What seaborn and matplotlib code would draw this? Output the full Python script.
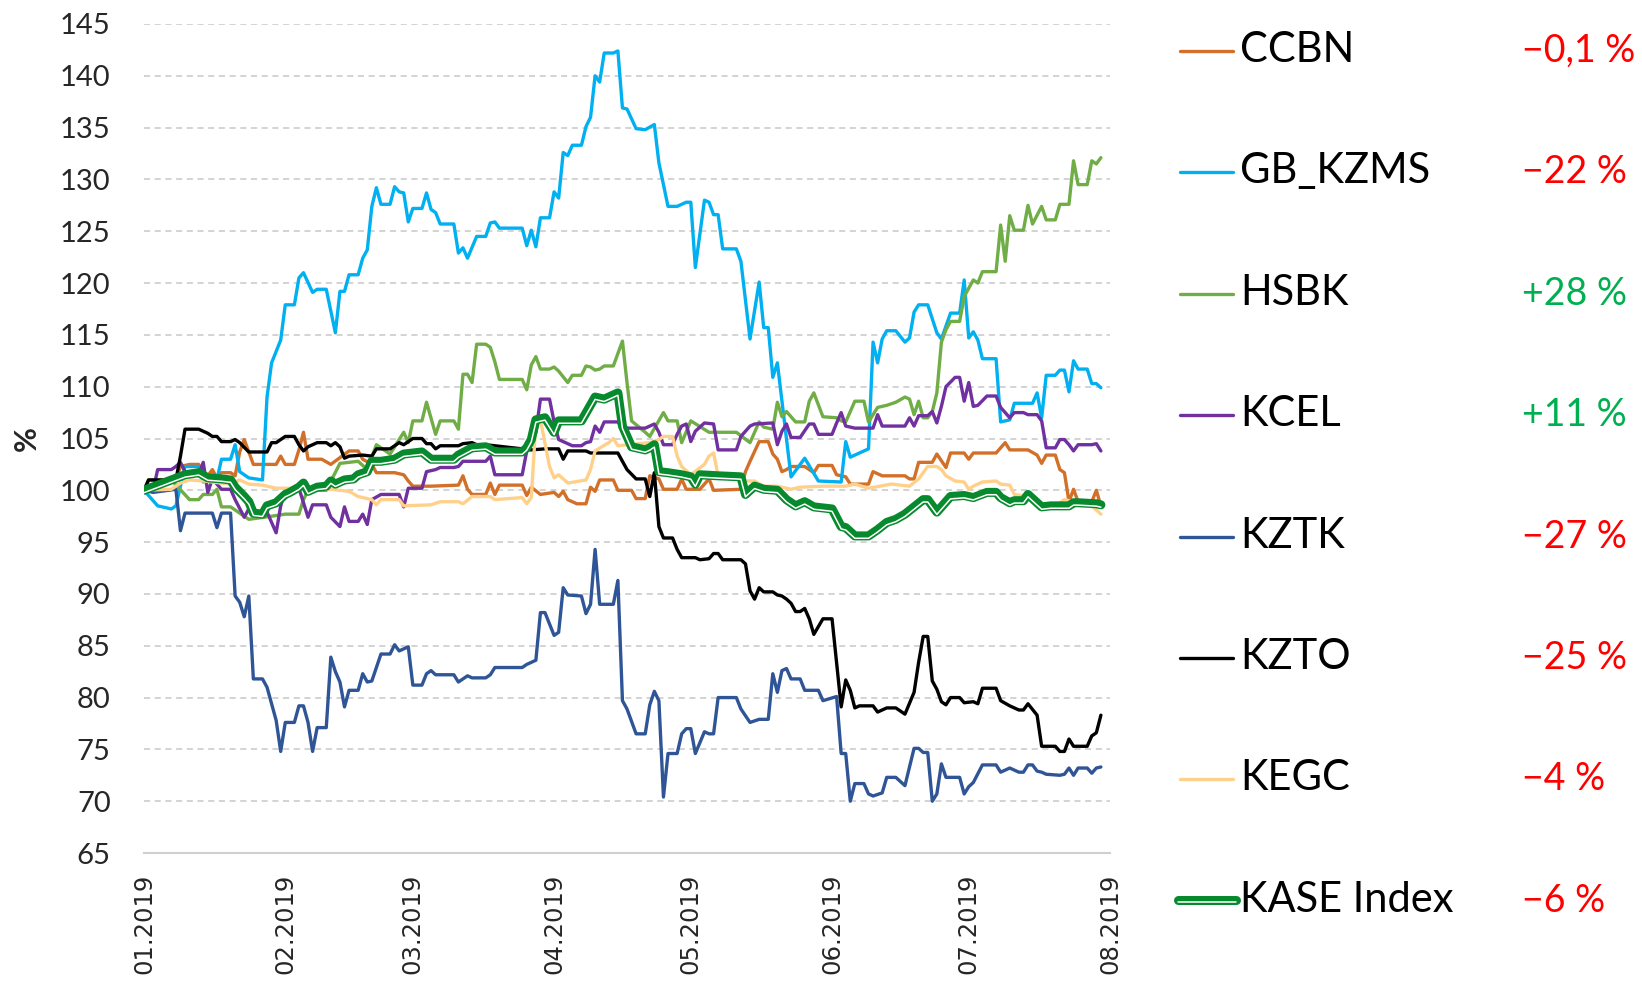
import pandas as pd
import seaborn as sns
import matplotlib.pyplot as plt
import matplotlib.dates as mdates
import matplotlib.patheffects as pe
from matplotlib.lines import Line2D

# (dias desde 01.01.2019, valor %)
ccbn = [(0,100),(7,101),(8,102.3),(10,102.5),(12,102.5),(13,101.8),(14,101.4),(15,102),(16,101.2),(17,101.7),
        (19,101.7),(20,101.4),(21,103.7),(22,104.9),(23,103.7),(24,102.5),(27,102.5),(29,102.5),(30,103.3),(31,102.5),
        (33,102.5),(34,103.9),(35,105.6),(36,103),(39,103),(41,102.5),(45,103.8),(47,103.8),(48,103),(50,102.5),
        (51,101.7),(55,101.7),(57,101.5),(58,100.9),(59,100.4),(63,100.4),(69,100.5),(70,101.4),(71,100.1),(72,99.6),
        (75,99.6),(76,100.7),(77,99.6),(78,100.5),(83,100.5),(84,99.5),(85,100.3),(87,99.6),(90,99.8),(91,99.4),
        (92,99.9),(93,99.1),(95,98.7),(97,98.7),(98,100.3),(99,99.9),(100,101),(103,101),(104,100),(107,100),
        (108,99.2),(110,99.2),(111,101.4),(113,101.1),(114,100.1),(117,100.1),(118,101.1),(119,100.1),(122,100.1),(124,101.1),
        (125,100),(131,100.1),(132,101.8),(133,102.8),(135,104.7),(137,104.7),(138,103.5),(139,103),(140,101.8),(141,102),
        (142,102.3),(145,102.3),(147,101.7),(148,102.4),(151,102.4),(152,101.5),(154,101.3),(155,100.6),(159,100.6),(160,101.8),
        (162,101.4),(167,101.4),(168,101.1),(169,101.1),(170,102.7),(173,102.7),(174,103.5),(176,102.2),(177,103.6),(180,103.6),
        (181,103),(182,103.6),(187,103.6),(189,104.6),(190,103.9),(194,103.9),(196,103.4),(197,102.6),(198,103.4),(200,103.4),
        (201,102),(202,101.7),(203,98.9),(204,100.1),(205,98.9),(208,98.9),(209,100),(210,98.5)]

gb_kzms = [(0,100),(3,98.5),(6,98.2),(7,98.5),(9,102.3),(12,102.3),(13,100.8),(15,101.5),(16,101),(17,103),
           (19,103),(20,104.4),(21,101.8),(23,101.2),(26,101),(27,109),(28,112.3),(30,114.5),(31,117.9),(33,117.9),
           (34,120.5),(35,121),(37,119.1),(38,119.4),(40,119.4),(42,115.2),(43,119.2),(44,119.2),(45,120.8),(47,120.8),
           (48,122.4),(49,123.2),(50,127.4),(51,129.2),(52,127.6),(54,127.6),(55,129.3),(56,128.8),(57,128.7),(58,125.9),
           (59,127.2),(61,127.2),(62,128.7),(63,127.1),(64,126.8),(65,125.7),(68,125.7),(69,122.9),(70,123.4),(71,122.4),
           (73,124.5),(75,124.5),(76,125.8),(77,125.9),(78,125.3),(83,125.3),(84,123.6),(85,125.1),(86,123.5),(87,126.3),
           (89,126.3),(90,128.8),(91,128.2),(92,132.6),(93,132.3),(94,133.3),(96,133.3),(97,135.1),(98,136),(99,140),
           (100,139.4),(101,142.2),(103,142.2),(104,142.4),(105,136.9),(106,136.8),(108,134.9),(110,134.8),(112,135.3),(113,131.6),
           (115,127.4),(117,127.4),(119,127.8),(120,127.8),(121,121.5),(123,128),(124,127.8),(125,126.6),(126,126.6),(127,123.3),
           (130,123.3),(131,122.1),(133,114.6),(135,120.1),(136,115.7),(137,115.7),(138,110.9),(139,112.3),(142,101.3),(145,103.1),
           (148,100.9),(153,100.8),(154,104.7),(155,103.2),(158,103.8),(159,104),(160,114.3),(161,112.3),(162,114.6),(163,115.4),
           (165,115.4),(167,114.3),(168,114.7),(169,117.2),(170,117.9),(172,117.9),(174,115.2),(175,114.6),(177,117.1),(179,117.1),
           (180,120.3),(181,114.7),(182,115.3),(183,114.5),(184,112.7),(187,112.7),(188,106.6),(190,106.8),(191,108.4),(195,108.4),
           (196,109.4),(197,107),(198,111.1),(200,111.1),(201,111.6),(202,111.6),(203,109.5),(204,112.5),(205,111.7),(207,111.7),
           (208,110.3),(209,110.3),(210,109.9)]

hsbk = [(0,100),(1,101),(6,101),(10,99.1),(12,99.1),(13,99.6),(15,99.6),(16,100.1),(17,98.4),(19,98.4),
        (23,97.2),(28,97.5),(31,97.7),(34,97.7),(35,99.1),(36,100),(40,100),(43,102.6),(47,102.8),(49,102),
        (51,104.4),(54,103.5),(57,105.6),(58,104.6),(59,106.7),(61,106.7),(62,108.5),(64,105.4),(65,106.7),(68,106.7),
        (69,105.9),(70,111.2),(71,111.2),(72,110.4),(73,114.1),(75,114.1),(76,113.8),(77,112.4),(78,110.7),(83,110.7),
        (84,109.7),(85,112.1),(86,112.9),(87,111.7),(89,111.7),(90,111.9),(91,111.5),(93,110.4),(94,111.1),(96,111.1),
        (97,112),(98,111.9),(99,111.6),(100,111.7),(101,112),(103,112),(105,114.4),(106,110.4),(107,106.7),(110,105.6),
        (111,105.2),(114,107.5),(115,106.7),(117,106.7),(118,104.6),(120,106.7),(124,105.6),(126,105.6),(130,105.6),(133,104.6),
        (135,106.6),(136,106.1),(138,105.9),(139,108.5),(140,107.1),(141,107.6),(143,106.6),(145,106.6),(146,108.6),(147,109.4),
        (149,107.1),(152,107),(153,106.7),(154,106.6),(156,108.6),(158,108.6),(159,106.6),(161,108),(163,108.2),(165,108.5),
        (167,109),(168,108.8),(169,107.3),(170,108.6),(171,107),(172,107),(173,107.6),(174,109.4),(175,114.3),(176,115.5),
        (177,116.3),(179,116.3),(180,118.7),(182,120.3),(183,120),(184,121.1),(187,121.1),(188,125.6),(189,122.1),(190,126.5),
        (191,125.1),(193,125.1),(194,127.5),(195,125.7),(197,127.4),(198,126.1),(200,126.1),(201,127.6),(203,127.6),(204,131.8),
        (205,129.5),(207,129.5),(208,131.8),(209,131.5),(210,132.1)]

kcel = [(0,100),(2,100),(3,102),(6,102),(7,102.3),(8,102.7),(9,101.8),(10,101.5),(12,101.5),(13,102.7),
        (14,99.8),(15,101.1),(16,100.6),(17,100.1),(19,100.1),(20,99.1),(22,97.4),(23,98.2),(25,97.9),(27,97.9),
        (28,96.9),(29,95.9),(30,98.5),(31,99.9),(33,100.3),(34,100.2),(36,97.4),(37,98.6),(40,98.6),(41,97.4),
        (43,96.5),(44,98.4),(45,97),(47,97),(48,97.7),(49,96.7),(50,99.1),(52,99.6),(56,99.6),(57,98.4),
        (58,100.2),(61,100.2),(62,101.8),(64,102),(65,102.2),(68,102.2),(69,102.3),(70,102.8),(75,102.8),(76,103.3),
        (77,101.5),(83,101.5),(84,103.8),(86,105.6),(87,108.8),(89,108.8),(90,106.6),(91,104.9),(92,104.7),(94,104.3),
        (96,104.3),(97,104.6),(98,104.7),(99,106.2),(100,105.6),(101,106.6),(104,106.6),(105,106),(110,106),(112,106.4),
        (113,105.6),(114,104.4),(116,104.4),(117,105.4),(118,106.2),(119,106.4),(120,104.7),(121,105.7),(123,106.5),(125,106.4),
        (126,103.9),(130,103.9),(131,105.2),(133,106.2),(134,106.4),(138,106.5),(139,104.4),(140,105.7),(141,106.4),(142,105.1),
        (144,105.1),(146,106.4),(147,106.4),(148,105.4),(151,105.4),(152,106.5),(153,107.5),(154,106.2),(156,106),(160,106),
        (161,107.3),(162,106.2),(167,106.2),(168,107),(169,106.2),(170,107.2),(172,107.2),(173,107.6),(174,106.5),(175,108.1),
        (176,110),(178,110.9),(179,110.9),(180,108.6),(181,110.4),(182,108.1),(183,108.2),(185,109.1),(187,109.1),(188,108),
        (190,107),(191,107.5),(193,107.5),(194,107.3),(196,107.3),(197,106.7),(198,104.1),(200,104.1),(201,104.9),(202,104.9),
        (203,104.4),(204,103.8),(205,104.4),(208,104.4),(209,104.5),(210,103.8)]

kztk = [(0,100),(2,99.8),(7,100.1),(8,96.1),(9,97.8),(15,97.8),(16,96.4),(17,97.8),(19,97.8),(20,89.8),
        (21,89.2),(22,87.8),(23,89.8),(24,81.8),(26,81.8),(27,81),(29,77.8),(30,74.8),(31,77.6),(33,77.6),
        (34,79.2),(35,79.2),(36,77.6),(37,74.8),(38,77.1),(40,77.1),(41,83.9),(42,82.5),(43,81.5),(44,79.1),
        (45,80.7),(47,80.7),(48,82.3),(49,81.5),(50,81.6),(52,84.2),(54,84.2),(55,85.1),(56,84.5),(58,84.9),
        (59,81.2),(61,81.2),(62,82.3),(63,82.6),(64,82.2),(68,82.2),(69,81.5),(71,82.1),(72,81.9),(75,81.9),
        (76,82.2),(77,82.9),(83,82.9),(84,83.2),(86,83.6),(87,88.2),(88,88.2),(90,86),(91,86.3),(92,90.6),
        (93,89.9),(96,89.8),(97,88.1),(98,89),(99,94.3),(100,89),(103,89),(104,91.3),(105,79.7),(106,78.9),
        (107,77.7),(108,76.5),(110,76.5),(111,79.3),(112,80.6),(113,79.7),(114,70.4),(115,74.6),(117,74.6),(118,76.5),
        (119,77),(120,77),(121,74.6),(123,76.7),(124,76.5),(125,76.5),(126,80),(130,80),(131,78.9),(133,77.6),
        (135,77.9),(137,77.9),(138,82.3),(139,80.5),(140,82.6),(141,82.8),(142,81.8),(144,81.8),(145,80.7),(148,80.7),
        (149,79.7),(152,80.1),(153,74.6),(154,74.6),(155,70),(156,71.7),(158,71.7),(159,70.7),(160,70.5),(162,70.8),
        (163,72.3),(165,72.3),(167,71.5),(169,75.1),(170,75.1),(171,74.7),(172,74.7),(173,70),(174,70.7),(175,73.6),
        (176,72.3),(179,72.3),(180,70.7),(181,71.4),(182,71.8),(184,73.5),(187,73.5),(188,72.8),(190,73.2),(192,72.8),
        (193,72.8),(194,73.5),(195,73.5),(196,72.9),(197,72.8),(198,72.6),(201,72.5),(202,72.6),(203,73.2),(204,72.5),
        (205,73.2),(207,73.2),(208,72.7),(209,73.2),(210,73.3)]

kzto = [(0,100),(1,101),(7,101),(8,103.3),(9,105.9),(12,105.9),(13,105.7),(14,105.5),(15,105.2),(16,105.2),
        (17,104.7),(19,104.7),(20,104.9),(21,104.6),(23,103.7),(27,103.7),(28,104.6),(29,104.6),(31,105.2),(33,105.2),
        (34,104.4),(35,103.8),(36,104.2),(38,104.6),(40,104.6),(41,104.3),(42,104.6),(43,104.2),(44,103.1),(45,103.3),
        (48,103.4),(50,103.3),(51,104),(54,104),(56,104.6),(57,104.4),(58,104.7),(59,105),(61,105),(62,104.5),
        (63,104.5),(64,104),(65,104.3),(69,104.3),(70,104.5),(72,104.6),(73,104.4),(75,104.4),(85,103.9),(88,104),
        (91,104),(92,103),(93,103.8),(97,103.8),(98,103.6),(104,103.6),(106,102),(108,101.1),(110,101.1),(111,99.4),
        (112,101.7),(113,96.5),(114,95.4),(116,95.4),(117,94.3),(118,93.5),(121,93.5),(122,93.3),(124,93.4),(125,93.9),
        (126,93.9),(127,93.3),(131,93.3),(132,92.9),(133,90.3),(134,89.5),(135,90.6),(136,90.2),(138,90.2),(139,89.9),
        (140,89.8),(141,89.5),(142,89.1),(143,88.3),(144,88.3),(145,88.6),(146,87.6),(147,86.1),(149,87.6),(151,87.6),
        (152,83.4),(153,79.1),(154,81.7),(155,80.7),(156,79),(157,79.2),(160,79.2),(161,78.6),(163,79),(165,79),
        (167,78.4),(169,80.5),(170,83.4),(171,85.9),(172,85.9),(173,81.6),(174,80.8),(175,79.6),(176,79.3),(177,80),
        (179,80),(180,79.5),(182,79.6),(183,79.4),(184,80.9),(187,80.9),(188,79.7),(190,79.2),(192,78.8),(193,78.8),
        (194,79.4),(196,78.3),(197,75.3),(200,75.3),(201,74.8),(202,74.8),(203,76),(204,75.3),(207,75.3),(208,76.3),
        (209,76.6),(210,78.3)]

kegc = [(0,100),(6,100.1),(8,100.7),(10,101),(13,100.9),(19,100.6),(21,101),(23,100.6),(26,100.5),(29,100.2),
        (34,100.2),(41,100.1),(45,99.9),(47,99.4),(50,99.1),(51,98.6),(52,99.1),(56,99.1),(57,98.5),(63,98.6),
        (65,98.9),(69,98.9),(70,98.7),(72,99.4),(76,99.4),(77,99.1),(83,99.3),(84,98.7),(85,99.3),(86,106.5),
        (87,106.8),(89,102.3),(90,101.2),(91,101.5),(93,100.7),(97,101),(98,102),(99,103.8),(102,104.6),(103,105),
        (104,104.3),(111,104.6),(113,104.9),(114,105.2),(116,105.2),(117,103.3),(118,102.3),(120,101.5),(123,102.5),(124,103.3),
        (125,103.6),(126,101.4),(131,101.4),(132,100.9),(134,100.9),(136,100.4),(139,100.4),(142,100.1),(144,100.3),(149,100.4),
        (154,100.4),(156,100.6),(159,100.2),(164,100.6),(168,100.4),(170,101.1),(172,102.3),(174,102.3),(175,102),(176,101.4),
        (178,100.9),(180,100.8),(181,100.1),(182,100.4),(184,100.8),(187,100.9),(188,100.6),(190,100.5),(191,99.6),(194,99.4),
        (196,99.1),(197,98.5),(200,98.5),(202,99.1),(204,98.9),(207,98.9),(208,98.5),(210,97.7)]

kase = [(0,100),(9,101.5),(12,101.7),(14,101.2),(17,101.1),(19,101),(20,100.3),(22,99.4),(23,98.9),(24,97.8),
        (26,97.7),(27,98.5),(29,98.8),(31,99.6),(32,99.8),(34,100.3),(35,100.7),(36,99.9),(38,100.3),(40,100.4),
        (41,100.9),(42,100.6),(44,101),(46,101.1),(47,101.5),(49,101.8),(50,102.8),(52,102.8),(55,103),(57,103.5),
        (59,103.6),(61,103.7),(63,103),(68,103),(69,103.4),(72,104.1),(75,104.2),(77,103.7),(83,103.7),(84,104.1),
        (85,104.9),(86,106.8),(88,107),(90,105.6),(91,106.7),(96,106.7),(99,109),(101,108.8),(104,109.4),(105,106.2),
        (106,105.2),(107,104.2),(110,103.9),(111,104.1),(112,104.4),(113,101.8),(115,101.7),(118,101.5),(120,101.3),(121,100.6),
        (122,101.5),(126,101.4),(131,101.3),(132,99.6),(134,100.4),(136,100.1),(139,100),(141,99.1),(143,98.5),(145,98.9),
        (147,98.4),(151,98.2),(153,96.5),(154,96.4),(156,95.6),(159,95.6),(161,96.2),(163,96.9),(165,97.2),(167,97.7),
        (169,98.4),(171,99.1),(172,99.1),(174,97.9),(175,98.4),(177,99.4),(180,99.5),(182,99.3),(185,99.8),(187,99.8),
        (188,99.3),(190,98.8),(191,99),(193,99),(194,99.6),(197,98.4),(199,98.5),(203,98.5),(204,98.8),(205,98.8),
        (209,98.7),(210,98.6)]

nomes = ['CCBN', 'GB_KZMS', 'HSBK', 'KCEL', 'KZTK', 'KZTO', 'KEGC', 'KASE Index']
series = [ccbn, gb_kzms, hsbk, kcel, kztk, kzto, kegc, kase]
variacao = ['\u22120,1 %', '\u221222 %', '+28 %', '+11 %', '\u221227 %', '\u221225 %', '\u22124 %', '\u22126 %']
cores = ['#D2702A', '#00B0F0', '#70AD47', '#7030A0', '#2F5597', '#000000', '#FFD08A', '#078A2E']

# Monta tabela longa
linhas = []
for nome, pontos in zip(nomes, series):
    for dia, valor in pontos:
        linhas.append((nome, dia, valor))
df = pd.DataFrame(linhas, columns=['serie', 'dia', 'valor'])
df['data'] = pd.Timestamp('2019-01-01') + pd.to_timedelta(df['dia'], unit='D')

sns.set_style('white')
plt.rcParams['font.family'] = ['Lato', 'DejaVu Sans']

W, H = 1642, 982
fig = plt.figure(figsize=(W / 100, H / 100), dpi=100)
ax = fig.add_axes([144 / W, 1 - 853 / H, (1110 - 144) / W, (853 - 24) / H])

verde_kase = cores[-1]
efeito_kase = [pe.Stroke(linewidth=6.5, foreground=verde_kase),
               pe.Stroke(linewidth=1.1, foreground='white', offset=(0, -1.7))]

for nome, cor in zip(nomes, cores):
    sub = df[df['serie'] == nome]
    sns.lineplot(data=sub, x='data', y='valor', ax=ax, color=cor, linewidth=2.4,
                 estimator=None, sort=False, legend=False)
    if nome == 'KASE Index':
        ax.lines[-1].set_path_effects(efeito_kase)

ax.set_xlim(pd.Timestamp('2019-01-01'), pd.Timestamp('2019-08-01'))
ax.set_ylim(65, 145)
ax.set_yticks(range(65, 146, 5))
ax.xaxis.set_major_locator(mdates.MonthLocator())
ax.xaxis.set_major_formatter(mdates.DateFormatter('%m.%Y'))

ax.yaxis.grid(True, linestyle=(0, (4, 3)), color='#C8C8C8', linewidth=1.1)
ax.xaxis.grid(False)
for lado in ['left', 'right', 'top']:
    ax.spines[lado].set_visible(False)
ax.spines['bottom'].set_color('#D0D0D0')
ax.spines['bottom'].set_linewidth(1.5)

ax.tick_params(axis='y', length=0, pad=24, labelsize=21)
ax.tick_params(axis='x', direction='out', length=7, width=1.2, color='#D0D0D0', pad=8)
for rotulo in ax.get_xticklabels():
    rotulo.set_rotation(90)
    rotulo.set_fontsize(17.5)
    rotulo.set_family('DejaVu Sans')

ax.set_xlabel('')
ax.set_ylabel('%', fontsize=22, fontweight='bold')
ax.yaxis.set_label_coords(-0.107, 0.5)

# Legenda manual com variacao
for i, (nome, cor, txt) in enumerate(zip(nomes, cores, variacao)):
    yc = 48 + i * 121.4
    if nome == 'KASE Index':
        linha = Line2D([1178 / W, 1236 / W], [1 - (yc + 2) / H] * 2, transform=fig.transFigure,
                       color='white', linewidth=1.1, solid_capstyle='round')
        linha.set_path_effects(efeito_kase)
    else:
        linha = Line2D([1180 / W, 1233 / W], [1 - (yc + 3) / H] * 2, transform=fig.transFigure,
                       color=cor, linewidth=2.4)
    fig.add_artist(linha)
    fig.text(1240 / W, 1 - (yc + 14) / H, nome, fontsize=30, va='baseline', ha='left', color='black')
    cor_txt = '#00B050' if txt.startswith('+') else '#FF0000'
    fig.text(1522 / W, 1 - (yc + 14) / H, txt, fontsize=27, va='baseline', ha='left', color=cor_txt)

fig.savefig('out.png', dpi=100)
